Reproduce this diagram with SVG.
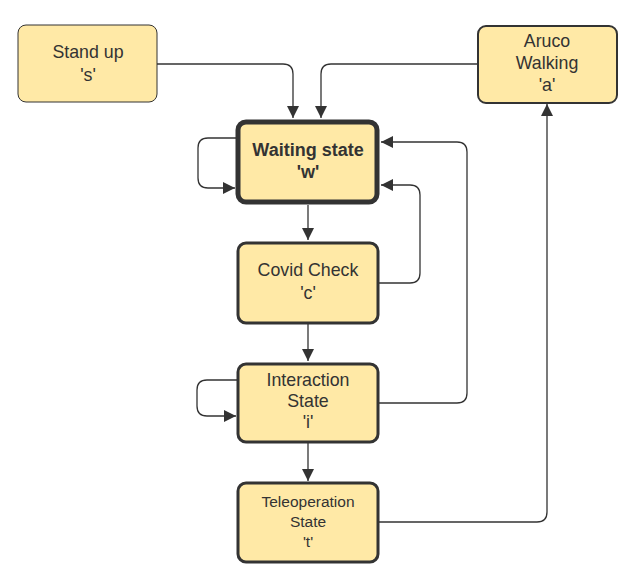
<svg xmlns="http://www.w3.org/2000/svg" width="636" height="588" viewBox="0 0 636 588">
<style>
.n{fill:#ffe9a6;stroke:#333;rx:8;ry:8}
.t{font-family:"Liberation Sans",Arial,sans-serif;font-size:17.8px;fill:#333;text-anchor:middle}
.b{font-weight:bold;font-size:18px}
.s{font-size:15.5px}
.c{fill:none;stroke:#333;stroke-width:1.3}
</style>
<defs>
<marker id="ah" markerUnits="userSpaceOnUse" markerWidth="14" markerHeight="14" refX="12" refY="6" orient="auto">
<path d="M0,0 L12,6 L0,12 Z" fill="#333"/>
</marker>
</defs>
<rect width="636" height="588" fill="#fff"/>
<g id="connectors">
<path class="c" d="M157,64 H283 Q293,64 293,74 V118" marker-end="url(#ah)"/>
<path class="c" d="M477,64 H331 Q321,64 321,74 V118" marker-end="url(#ah)"/>
<path class="c" d="M236,138 H208 Q198,138 198,148 V178 Q198,188 208,188 H235" marker-end="url(#ah)"/>
<path class="c" d="M308,205 V240" marker-end="url(#ah)"/>
<path class="c" d="M379,283 H410 Q420,283 420,273 V195 Q420,185 410,185 H381" marker-end="url(#ah)"/>
<path class="c" d="M379,403 H457 Q467,403 467,393 V152 Q467,142 457,142 H381" marker-end="url(#ah)"/>
<path class="c" d="M308,324 V361" marker-end="url(#ah)"/>
<path class="c" d="M237,380 H207 Q197,380 197,390 V406 Q197,416 207,416 H236" marker-end="url(#ah)"/>
<path class="c" d="M308,443 V481" marker-end="url(#ah)"/>
<path class="c" d="M379,522 H537 Q547,522 547,512 V104" marker-end="url(#ah)"/>
</g>
<g id="stand-up">
<rect class="n" x="18" y="25" width="139" height="77" stroke-width="1"/>
<text class="t" x="88" y="58">Stand up</text>
<text class="t" x="88" y="81">'s'</text>
</g>
<g id="aruco-walking">
<rect class="n" x="478" y="26" width="139" height="77" stroke-width="2"/>
<text class="t" x="547" y="47">Aruco</text>
<text class="t" x="547" y="69">Walking</text>
<text class="t" x="547" y="91">'a'</text>
</g>
<g id="waiting-state">
<rect class="n" x="238" y="122" width="139" height="80" stroke-width="5"/>
<text class="t b" x="308" y="156">Waiting state</text>
<text class="t b" x="308" y="178">'w'</text>
</g>
<g id="covid-check">
<rect class="n" x="238" y="243" width="140" height="80" stroke-width="3"/>
<text class="t" x="308" y="276">Covid Check</text>
<text class="t" x="308" y="299">'c'</text>
</g>
<g id="interaction-state">
<rect class="n" x="238" y="364" width="140" height="78" stroke-width="3"/>
<text class="t" x="308" y="386">Interaction</text>
<text class="t" x="308" y="407">State</text>
<text class="t" x="308" y="428">'i'</text>
</g>
<g id="teleoperation-state">
<rect class="n" x="238" y="483" width="140" height="79" stroke-width="3"/>
<text class="t s" x="308" y="507">Teleoperation</text>
<text class="t s" x="308" y="527">State</text>
<text class="t s" x="308" y="547">'t'</text>
</g>
</svg>
